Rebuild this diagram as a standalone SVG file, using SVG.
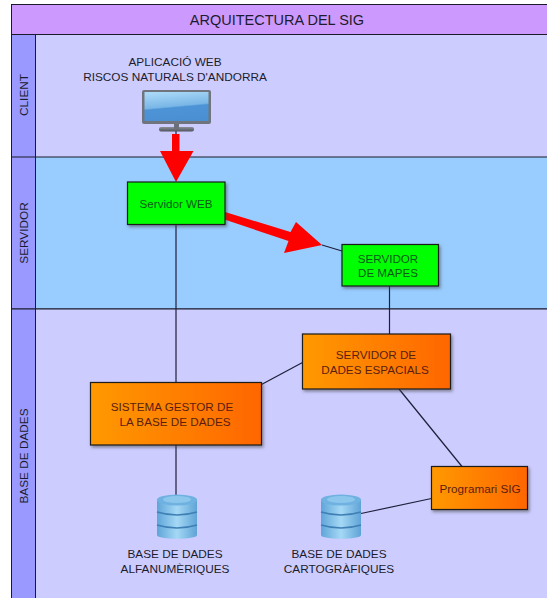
<svg xmlns="http://www.w3.org/2000/svg" width="547" height="598" viewBox="0 0 547 598">
<style>
text{font-family:"Liberation Sans",Arial,sans-serif;font-size:11.8px;fill:#1c1c2c;text-anchor:middle}
.lane{stroke:#1a1a2a;stroke-width:1}
.head{fill:#9999ff;stroke:#1a1a2a;stroke-width:1}
.conn{stroke:#1f1f3a;stroke-width:1.2;fill:none}
.box{stroke:#1a1a1a;stroke-width:1.2;filter:url(#sh)}
.green{fill:#00ff00}
.orange{fill:url(#or)}
.gt{fill:#0b5a1a;font-size:11.6px}
.ot{fill:#5a1e10;font-size:11.7px}
.red{fill:#ff0000}
</style>
<defs>
<linearGradient id="or" x1="0" y1="0" x2="1" y2="0"><stop offset="0" stop-color="#ff9900"/><stop offset="1" stop-color="#ff6600"/></linearGradient>
<filter id="sh" x="-10%" y="-10%" width="125%" height="130%"><feDropShadow dx="1.5" dy="2" stdDeviation="1.5" flood-color="#444" flood-opacity=".55"/></filter>
<linearGradient id="scr" x1="0.3" y1="0" x2="0.5" y2="1"><stop offset="0" stop-color="#a9d8f7"/><stop offset=".5" stop-color="#79b6e6"/><stop offset=".55" stop-color="#4d94d6"/><stop offset="1" stop-color="#4a8fd2"/></linearGradient>
<linearGradient id="cyl" x1="0" y1="0" x2="1" y2="0"><stop offset="0" stop-color="#5fa5d8"/><stop offset=".5" stop-color="#a5d8f5"/><stop offset="1" stop-color="#5fa3d6"/></linearGradient>
<linearGradient id="stand" x1="0" y1="0" x2="0" y2="1"><stop offset="0" stop-color="#8b8f97"/><stop offset="1" stop-color="#4f535b"/></linearGradient>
<g id="db">
<path d="M0 6C0 0 40 0 40 6V41C40 46 0 46 0 41Z" fill="url(#cyl)"/>
<ellipse cx="20" cy="6" rx="20" ry="5.5" fill="#6fb2e2"/>
<ellipse cx="20" cy="5.5" rx="14" ry="3.5" fill="#8cc6ec"/>
<path d="M0 18Q20 24 40 18M0 31Q20 37 40 31" fill="none" stroke="#3e7fb5" stroke-width="1.6"/>
</g>
</defs>
<rect x="0" y="0" width="547" height="598" fill="#ffffff"/>
<g id="swimlanes">
<rect x="11.5" y="4.5" width="536" height="30" fill="#cc99ff" class="lane"/>
<rect x="11.5" y="34.5" width="536" height="123" fill="#ccccff" class="lane"/>
<rect x="11.5" y="157" width="536" height="152" fill="#99ccff" class="lane"/>
<rect x="11.5" y="309" width="536" height="290" fill="#ccccff" class="lane"/>
<rect x="11.5" y="34.5" width="24" height="123" class="head"/>
<rect x="11.5" y="157" width="24" height="152" class="head"/>
<rect x="11.5" y="309" width="24" height="290" class="head"/>
<text x="277" y="25" style="font-size:14.5px">ARQUITECTURA DEL SIG</text>
<text transform="translate(28 95) rotate(-90)">CLIENT</text>
<text transform="translate(28 233) rotate(-90)">SERVIDOR</text>
<text transform="translate(28 456) rotate(-90)">BASE DE DADES</text>
</g>
<g id="connectors">
<line x1="176" y1="224" x2="176" y2="383" class="conn"/>
<line x1="176" y1="445" x2="176" y2="495" class="conn"/>
<line x1="322" y1="245" x2="342" y2="251" class="conn"/>
<line x1="389.5" y1="286" x2="389.5" y2="334" class="conn"/>
<line x1="261.5" y1="384.5" x2="302.5" y2="362.5" class="conn"/>
<line x1="399" y1="389" x2="462" y2="466.5" class="conn"/>
<line x1="361" y1="513.5" x2="431.5" y2="498.5" class="conn"/>
<line x1="176" y1="131" x2="176" y2="134" class="conn"/>
<polygon class="red" points="172,134 179.500,134 179.500,151 193.500,151 176,182 160,151 172,151"/>
<polygon class="red" points="225,212 290.500,232 296,222 322,245 284,253 288.500,241 223,219"/>
</g>
<g id="web-app">
<text x="175" y="66">APLICACIÓ WEB</text>
<text x="175" y="81">RISCOS NATURALS D'ANDORRA</text>
<rect x="159" y="127" width="35" height="4.500" rx="2" fill="url(#stand)"/>
<rect x="174" y="123" width="5" height="6" fill="#6c7078"/>
<rect x="142" y="90" width="69" height="34" rx="2" fill="#70757d"/>
<rect x="144.500" y="92" width="64" height="29" fill="url(#scr)"/>
</g>
<g id="servidor-web">
<rect x="127.500" y="182" width="97.500" height="42.500" class="box green"/>
<text x="176" y="208" class="gt">Servidor WEB</text>
</g>
<g id="servidor-mapes">
<rect x="342" y="244.500" width="96.500" height="41.500" class="box green"/>
<text x="388" y="263" class="gt">SERVIDOR</text>
<text x="388" y="277" class="gt">DE MAPES</text>
</g>
<g id="servidor-dades">
<rect x="302.500" y="334" width="148" height="55" class="box orange"/>
<text x="376" y="359" class="ot">SERVIDOR DE</text>
<text x="375" y="374" class="ot">DADES ESPACIALS</text>
</g>
<g id="sgbd">
<rect x="90.500" y="382.500" width="171" height="62.500" class="box orange"/>
<text x="172" y="411" class="ot">SISTEMA GESTOR DE</text>
<text x="175" y="426" class="ot">LA BASE DE DADES</text>
</g>
<g id="programari">
<rect x="431.500" y="466.500" width="96" height="43" class="box orange"/>
<text x="480" y="493" class="ot">Programari SIG</text>
</g>
<g id="db-alfa">
<use href="#db" x="157" y="494"/>
<text x="175" y="558">BASE DE DADES</text>
<text x="175" y="573">ALFANUMÈRIQUES</text>
</g>
<g id="db-carto">
<use href="#db" x="321" y="494"/>
<text x="339" y="558">BASE DE DADES</text>
<text x="339" y="573">CARTOGRÀFIQUES</text>
</g>
</svg>
